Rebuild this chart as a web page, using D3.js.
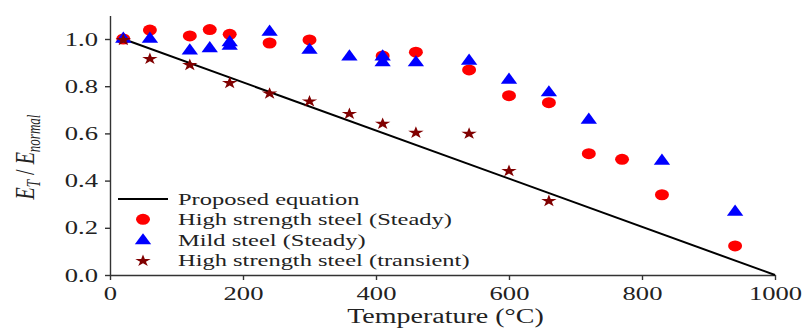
<!DOCTYPE html>
<html>
<head>
<meta charset="utf-8">
<script src="https://cdn.jsdelivr.net/npm/d3@7"></script>
<style>
  body { margin: 0; background: #fff; }
  text { font-family: "Liberation Serif", "Times New Roman", serif; fill: #222; }
  .axis path, .axis line { stroke: #333; stroke-width: 1.4; }
</style>
</head>
<body>
<svg id="chart"></svg>
<script>
// temperatures (°C) and E_T/E_normal
const hsSteadyTemp = [20, 60, 120, 150, 180, 240, 300, 410, 460, 540, 600, 660, 720, 770, 830, 940];
const hsSteadyVal  = [1.0, 1.038, 1.013, 1.04, 1.02, 0.983, 0.996, 0.928, 0.944, 0.869, 0.76, 0.73, 0.514, 0.49, 0.34, 0.123];

const mildTemp = [20, 60, 120, 150, 180, 180, 240, 300, 360, 410, 410, 460, 540, 600, 660, 720, 830, 940];
const mildVal  = [1.0, 1.0, 0.95, 0.96, 0.985, 0.97, 1.03, 0.953, 0.925, 0.925, 0.9, 0.9, 0.907, 0.826, 0.773, 0.657, 0.483, 0.267];

const hsTransTemp = [20, 60, 120, 180, 240, 300, 360, 410, 460, 540, 600, 660];
const hsTransVal  = [1.0, 0.92, 0.894, 0.818, 0.773, 0.74, 0.687, 0.645, 0.607, 0.603, 0.445, 0.318];

// proposed equation: straight line from (20, 1.0) down to (1000, 0)
const eqTemp = [20, 1000];
const eqVal  = [1.0, 0.0];

const xTicks = [0, 200, 400, 600, 800, 1000];
const xMinorTicks = [100, 300, 500, 700, 900];
const yTicks = [0.0, 0.2, 0.4, 0.6, 0.8, 1.0];
const yMinorTicks = [0.1, 0.3, 0.5, 0.7, 0.9, 1.1];

const legendLabels = [
  'Proposed equation',
  'High strength steel (Steady)',
  'Mild steel (Steady)',
  'High strength steel (transient)'
];

const config = {
  containerWidth: 810,
  containerHeight: 328,
  margin: { top: 15.4, right: 35, bottom: 53, left: 110 }
};
const SX = 1.4; // the figure is stretched horizontally

const width = config.containerWidth - config.margin.left - config.margin.right;
const height = config.containerHeight - config.margin.top - config.margin.bottom;

const svg = d3.select('#chart')
  .attr('width', config.containerWidth)
  .attr('height', config.containerHeight);

const chart = svg.append('g')
  .attr('transform', `translate(${config.margin.left},${config.margin.top})`);

const xScale = d3.scaleLinear().domain([0, 1000]).range([0, width]);
const yScale = d3.scaleLinear().domain([0, 1.1]).range([height, 0]);

// move a text's x/y into a transform so it can be stretched sideways
function stretch(sel) {
  sel.each(function () {
    const t = d3.select(this);
    const x = +t.attr('x') || 0, y = +t.attr('y') || 0;
    t.attr('x', 0).attr('y', 0)
      .attr('transform', `translate(${x},${y}) scale(${SX},1)`);
  });
}

// axes
const xAxisG = chart.append('g')
  .attr('class', 'axis x-axis')
  .attr('transform', `translate(0,${height})`);
xAxisG.call(d3.axisBottom(xScale).tickValues(xMinorTicks).tickFormat('').tickSize(3).tickSizeOuter(0));
xAxisG.call(d3.axisBottom(xScale).tickValues(xTicks).tickFormat(d3.format('d'))
    .tickSize(5).tickPadding(7).tickSizeOuter(0))
  .call(g => g.selectAll('text').attr('font-size', 19).attr('fill', '#222')
    .style('font-family', '"Liberation Serif", serif'));
stretch(xAxisG.selectAll('.tick text'));

const yAxisG = chart.append('g').attr('class', 'axis y-axis');
yAxisG.call(d3.axisLeft(yScale).tickValues(yMinorTicks).tickFormat('').tickSize(3).tickSizeOuter(0));
yAxisG.call(d3.axisLeft(yScale).tickValues(yTicks).tickFormat(d3.format('.1f'))
    .tickSize(5).tickPadding(7).tickSizeOuter(0))
  .call(g => g.selectAll('text').attr('font-size', 19).attr('fill', '#222')
    .style('font-family', '"Liberation Serif", serif'));
stretch(yAxisG.selectAll('.tick text'));

// axis titles
svg.append('text')
  .attr('text-anchor', 'middle')
  .attr('font-size', 20)
  .attr('transform', `translate(${config.margin.left + width / 2 + 3},323) scale(${SX},1)`)
  .text('Temperature (°C)');

const yTitle = svg.append('text')
  .attr('text-anchor', 'middle')
  .attr('font-size', 20)
  .attr('font-style', 'italic')
  .attr('transform', `translate(34,157) scale(${SX},1) rotate(-90)`);
yTitle.append('tspan').text('E');
yTitle.append('tspan').attr('font-size', 13).attr('dy', 4).text('T');
yTitle.append('tspan').attr('dy', -4).attr('font-style', 'normal').text(' / ');
yTitle.append('tspan').text('E');
yTitle.append('tspan').attr('font-size', 13).attr('dy', 4).text('normal');

// markers
const circleSym = d3.symbol(d3.symbolCircle, 95);
const triSym = d3.symbol(d3.symbolTriangle, 72);
const starSym = d3.symbol(d3.symbolStar, 46);
const markerScale = `scale(1.27,1)`;

const line = d3.line()
  .x(i => xScale(eqTemp[i]))
  .y(i => yScale(eqVal[i]));

chart.append('path')
  .attr('d', line(d3.range(eqTemp.length)))
  .attr('fill', 'none')
  .attr('stroke', '#000')
  .attr('stroke-width', 2);

chart.selectAll('.hs-steady')
  .data(d3.range(hsSteadyTemp.length))
  .join('path')
  .attr('class', 'hs-steady')
  .attr('d', circleSym)
  .attr('transform', i => `translate(${xScale(hsSteadyTemp[i])},${yScale(hsSteadyVal[i])}) ${markerScale}`)
  .attr('fill', '#ff0000');

chart.selectAll('.mild')
  .data(d3.range(mildTemp.length))
  .join('path')
  .attr('class', 'mild')
  .attr('d', triSym)
  .attr('transform', i => `translate(${xScale(mildTemp[i])},${yScale(mildVal[i])}) ${markerScale}`)
  .attr('fill', '#0000ff');

chart.selectAll('.hs-trans')
  .data(d3.range(hsTransTemp.length))
  .join('path')
  .attr('class', 'hs-trans')
  .attr('d', starSym)
  .attr('transform', i => `translate(${xScale(hsTransTemp[i])},${yScale(hsTransVal[i]) + 1}) ${markerScale}`)
  .attr('fill', '#800000');

// legend
const legend = svg.append('g').attr('transform', 'translate(118,199)');
const rowH = 20.3;

legend.append('line')
  .attr('x1', 0).attr('x2', 50)
  .attr('y1', 0).attr('y2', 0)
  .attr('stroke', '#000').attr('stroke-width', 2);
legend.append('path').attr('d', circleSym)
  .attr('transform', `translate(25,${rowH}) ${markerScale}`).attr('fill', '#ff0000');
legend.append('path').attr('d', triSym)
  .attr('transform', `translate(25,${rowH * 2 + 1}) ${markerScale}`).attr('fill', '#0000ff');
legend.append('path').attr('d', starSym)
  .attr('transform', `translate(25,${rowH * 3 + 1}) ${markerScale}`).attr('fill', '#800000');

legend.selectAll('.legend-label')
  .data(legendLabels)
  .join('text')
  .attr('class', 'legend-label')
  .attr('font-size', 17.5)
  .attr('transform', (d, i) => `translate(60,${i * rowH + 6}) scale(${SX},1)`)
  .text(d => d);
</script>
</body>
</html>
